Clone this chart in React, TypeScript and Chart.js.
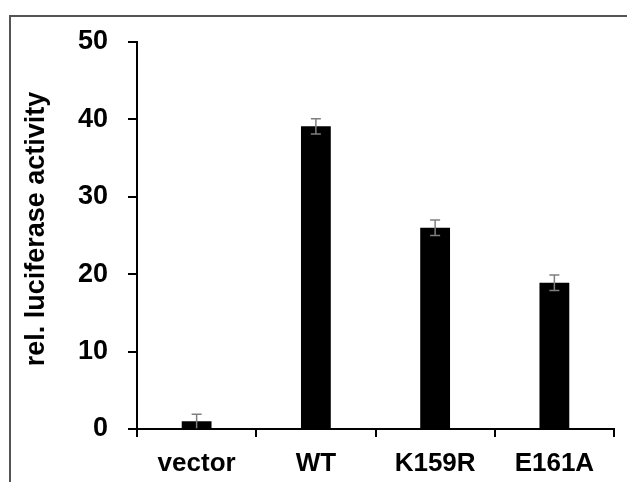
import React, { useEffect, useRef } from "react";
import { Chart, registerables } from "chart.js";

Chart.register(...registerables);

const categories = ["vector", "WT", "K159R", "E161A"];
const values = [1.0, 39.1, 26.0, 18.9];
const errors = [0.9, 1.0, 1.0, 1.0];
const yTicks = [0, 10, 20, 30, 40, 50];
const yTitle = "rel. luciferase activity";

const FONT = "'Liberation Sans', Arial, sans-serif";

const framePlugin = {
  id: "frame",
  beforeDraw(chart: any) {
    const ctx = chart.ctx;
    ctx.save();
    ctx.fillStyle = "#ffffff";
    ctx.fillRect(0, 0, chart.width, chart.height);
    ctx.strokeStyle = "#555555";
    ctx.lineWidth = 2;
    ctx.beginPath();
    ctx.moveTo(10, chart.height + 2);
    ctx.lineTo(10, 16);
    ctx.lineTo(chart.width + 2, 16);
    ctx.stroke();
    ctx.restore();
  },
};

const titlePlugin = {
  id: "yTitle",
  afterDraw(chart: any) {
    const ctx = chart.ctx;
    ctx.save();
    ctx.translate(37, 229);
    ctx.rotate(-Math.PI / 2);
    ctx.fillStyle = "#000000";
    ctx.font = "bold 27px " + FONT;
    ctx.textAlign = "center";
    ctx.textBaseline = "middle";
    ctx.fillText(yTitle, 0, 0);
    ctx.restore();
  },
};

const errorBarPlugin = {
  id: "errorBars",
  afterDatasetsDraw(chart: any) {
    const ctx = chart.ctx;
    const xs = chart.scales.x;
    const ys = chart.scales.y;
    ctx.save();
    ctx.strokeStyle = "#7f7f7f";
    ctx.lineWidth = 1.5;
    values.forEach((v, i) => {
      const x = xs.getPixelForValue(i);
      const top = ys.getPixelForValue(v + errors[i]);
      const bot = ys.getPixelForValue(Math.max(0, v - errors[i]));
      const half = 5;
      ctx.beginPath();
      ctx.moveTo(x, bot);
      ctx.lineTo(x, top);
      ctx.moveTo(x - half, top);
      ctx.lineTo(x + half, top);
      if (v - errors[i] > 0.5) {
        ctx.moveTo(x - half, bot);
        ctx.lineTo(x + half, bot);
      }
      ctx.stroke();
    });
    ctx.restore();
  },
};

export default function App() {
  const ref = useRef<HTMLCanvasElement | null>(null);
  useEffect(() => {
    if (!ref.current) return;
    const chart = new Chart(ref.current, {
      type: "bar",
      data: {
        labels: categories,
        datasets: [
          {
            data: values,
            backgroundColor: "#000000",
            borderWidth: 0,
            barPercentage: 0.25,
            categoryPercentage: 1,
          },
        ],
      },
      options: {
        animation: false,
        responsive: false,
        maintainAspectRatio: false,
        layout: { padding: { top: 42, right: 13, bottom: 0, left: 0 } },
        plugins: {
          legend: { display: false },
          tooltip: { enabled: false },
        },
        scales: {
          x: {
            grid: {
              offset: true,
              drawOnChartArea: false,
              drawTicks: true,
              tickLength: 8,
              color: "#000000",
              lineWidth: 2,
            },
            border: { display: true, color: "#000000", width: 2 },
            ticks: {
              color: "#000000",
              padding: 11,
              font: { family: FONT, size: 26, weight: "bold" },
            },
            afterFit(scale: any) {
              scale.height = 53;
            },
          },
          y: {
            min: 0,
            max: 50,
            afterBuildTicks(scale: any) {
              scale.ticks = yTicks.map((v) => ({ value: v }));
            },
            grid: {
              drawOnChartArea: false,
              drawTicks: true,
              tickLength: 9,
              color: "#000000",
              lineWidth: 2,
            },
            border: { display: true, color: "#000000", width: 2 },
            ticks: {
              color: "#000000",
              padding: 20,
              font: { family: FONT, size: 27, weight: "bold" },
            },
            title: { display: false },
            afterFit(scale: any) {
              scale.width = 137;
            },
          },
        },
      },
      plugins: [framePlugin, errorBarPlugin, titlePlugin],
    });
    return () => chart.destroy();
  }, []);
  return (
    <div style={{ position: "absolute", left: 0, top: 0, width: 627, height: 482 }}>
      <canvas ref={ref} width={627} height={482} style={{ display: "block" }} />
    </div>
  );
}
